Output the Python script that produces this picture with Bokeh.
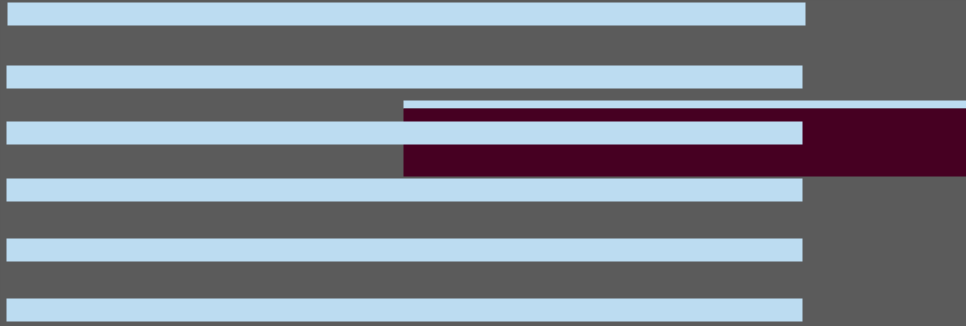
from bokeh.plotting import figure
from bokeh.models import Range1d, ColumnDataSource
from bokeh.embed import file_html
from bokeh.resources import INLINE

# Values (plot units = pixels of the reference)
bar_left = [7, 6, 6, 6, 6, 6]
bar_right = [805, 802, 802, 802, 802, 802]
bar_top = [2, 65, 121, 178, 238, 298]
bar_bottom = [25, 88, 144, 201, 261, 321]

block_left = [403]
block_right = [970]
block_top = [108]
block_bottom = [176]

strip_left = [403]
strip_right = [970]
strip_top = [100]
strip_bottom = [108]

BG = "#5b5b5b"
BLUE = "#bcdcf1"
MAROON = "#460022"

p = figure(width=966, height=326, output_backend="svg", toolbar_location=None,
           x_range=Range1d(0, 966), y_range=Range1d(326, 0),
           min_border=0, min_border_left=0, min_border_right=0,
           min_border_top=0, min_border_bottom=0)
p.axis.visible = False
p.grid.visible = False
p.outline_line_color = None
p.background_fill_color = BG
p.border_fill_color = BG

p.quad(left=strip_left, right=strip_right, top=strip_top, bottom=strip_bottom,
       fill_color=BLUE, line_color=None)
p.quad(left=block_left, right=block_right, top=block_top, bottom=block_bottom,
       fill_color=MAROON, line_color=None)
src = ColumnDataSource(dict(left=bar_left, right=bar_right, top=bar_top, bottom=bar_bottom))
p.quad(left="left", right="right", top="top", bottom="bottom", source=src,
       fill_color=BLUE, line_color=None)

html = file_html(p, INLINE)
html = html.replace("<head>", "<head><style>html,body{margin:0;padding:0;background:%s;overflow:hidden}</style>" % BG, 1)
open("out.html", "w").write(html)
